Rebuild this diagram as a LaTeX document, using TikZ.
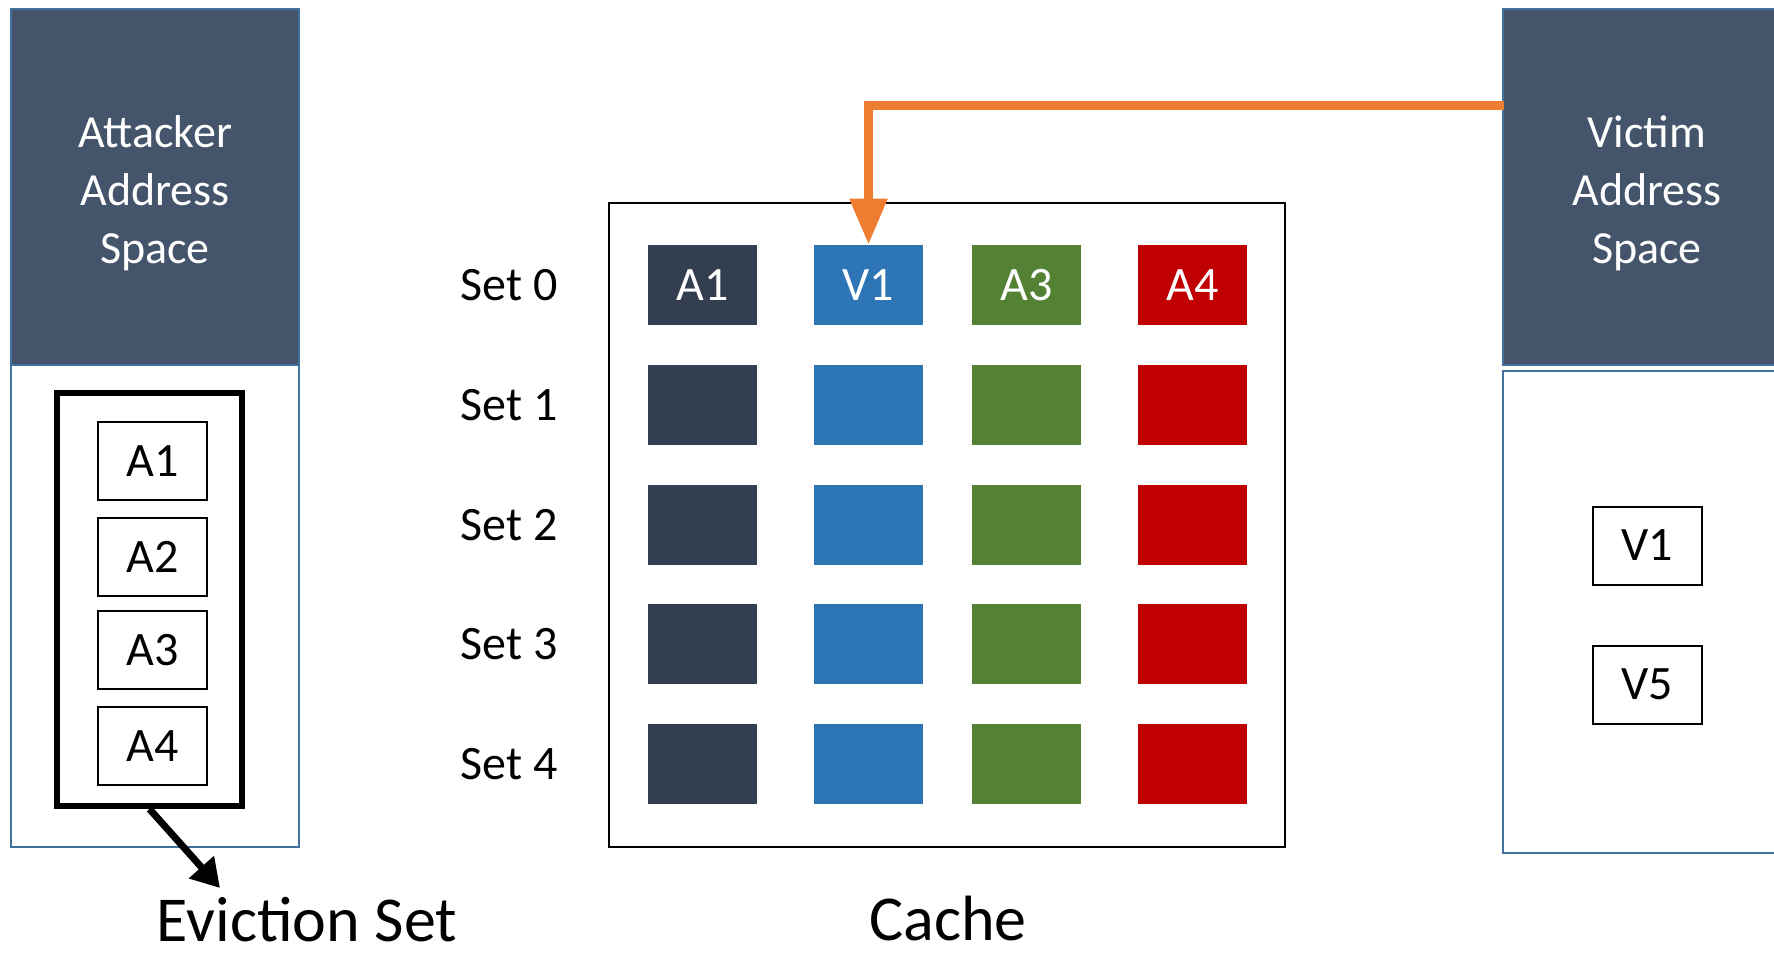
\documentclass[tikz,border=0pt]{standalone}
\usepackage{fontspec}
\setmainfont{Carlito}
\usetikzlibrary{arrows.meta}

\definecolor{headgray}{HTML}{44546A}
\definecolor{paneledge}{HTML}{41719C}
\definecolor{waynavy}{HTML}{333F50}
\definecolor{wayblue}{HTML}{2E75B6}
\definecolor{waygreen}{HTML}{548235}
\definecolor{wayred}{HTML}{C00000}
\definecolor{accessorange}{HTML}{ED7D31}

\tikzset{
  header/.style={draw=paneledge,line width=1pt,fill=headgray,minimum width=144pt,minimum height=178pt,inner sep=0pt},
  headtext/.style={text=white,align=center,inner sep=0pt,font=\fontsize{23}{29}\selectfont},
  panel/.style={draw=paneledge,line width=1pt,minimum width=144pt,minimum height=241pt,inner sep=0pt},
  addr/.style={draw,line width=1pt,minimum width=54.5pt,minimum height=39pt,inner sep=0pt,font=\fontsize{24}{28}\selectfont},
  cell/.style={minimum width=54.5pt,minimum height=40pt,inner sep=0pt,text=white,font=\fontsize{24}{28}\selectfont},
  setlabel/.style={font=\fontsize{24}{28}\selectfont},
  caption/.style={inner sep=0pt,font=\fontsize{32}{38}\selectfont}
}

\begin{document}
\begin{tikzpicture}[x=0.5pt,y=-0.5pt]
    \useasboundingbox (0,0) rectangle (1774,954);
    \clip (0,0) rectangle (1774,954);

    % attacker side
    \node[header] (ahead) at (155,187) {};
    \node[headtext] (atext) at (155,193) {Attacker\\Address\\Space};
    \node[panel] (abody) at (155,606) {};
    \node[draw,line width=3pt,minimum width=92.5pt,minimum height=206.5pt,inner sep=0pt] (evset) at (149.5,599.5) {};
    \node[addr] (ea1) at (152.5,461) {A1};
    \node[addr] (ea2) at (152.5,557) {A2};
    \node[addr] (ea3) at (152.5,650) {A3};
    \node[addr] (ea4) at (152.5,746) {A4};
    \coordinate (evtip) at (220,888);
    \node[caption] (evlabel) at (307,920) {Eviction Set};

    % victim side
    \node[header] (vhead) at (1647,187) {};
    \node[headtext] (vtext) at (1647,193) {Victim\\Address\\Space};
    \node[panel] (vbody) at (1647,612) {};
    \node[addr] (v1) at (1647.5,545.5) {V1};
    \node[addr] (v5) at (1647.5,684.5) {V5};
    \coordinate (vtap) at (1504,105);

    % cache
    \node[draw,line width=1pt,minimum width=338pt,minimum height=322pt,inner sep=0pt] (cache) at (947,525) {};
    \node[caption] (cachelabel) at (948,919) {Cache};

    \node[setlabel] (s0) at (509,285) {Set 0};
    \node[setlabel] (s1) at (509,405) {Set 1};
    \node[setlabel] (s2) at (509,525) {Set 2};
    \node[setlabel] (s3) at (509,644) {Set 3};
    \node[setlabel] (s4) at (509,764) {Set 4};

    \node[cell,fill=waynavy] (c00) at (702.5,285) {A1};
    \node[cell,fill=wayblue] (c01) at (868.5,285) {V1};
    \node[cell,fill=waygreen] (c02) at (1026.5,285) {A3};
    \node[cell,fill=wayred] (c03) at (1192.5,285) {A4};
    \node[cell,fill=waynavy] (c10) at (702.5,405) {};
    \node[cell,fill=wayblue] (c11) at (868.5,405) {};
    \node[cell,fill=waygreen] (c12) at (1026.5,405) {};
    \node[cell,fill=wayred] (c13) at (1192.5,405) {};
    \node[cell,fill=waynavy] (c20) at (702.5,525) {};
    \node[cell,fill=wayblue] (c21) at (868.5,525) {};
    \node[cell,fill=waygreen] (c22) at (1026.5,525) {};
    \node[cell,fill=wayred] (c23) at (1192.5,525) {};
    \node[cell,fill=waynavy] (c30) at (702.5,644) {};
    \node[cell,fill=wayblue] (c31) at (868.5,644) {};
    \node[cell,fill=waygreen] (c32) at (1026.5,644) {};
    \node[cell,fill=wayred] (c33) at (1192.5,644) {};
    \node[cell,fill=waynavy] (c40) at (702.5,764) {};
    \node[cell,fill=wayblue] (c41) at (868.5,764) {};
    \node[cell,fill=waygreen] (c42) at (1026.5,764) {};
    \node[cell,fill=wayred] (c43) at (1192.5,764) {};

    \draw[-{Triangle[width=18pt,length=23pt]},line width=4.5pt,accessorange] (vtap) -| (c01.north);
    \draw[-{Triangle[width=16pt,length=14pt]},line width=3.5pt] (evset.south) -- (evtip);
\end{tikzpicture}
\end{document}
